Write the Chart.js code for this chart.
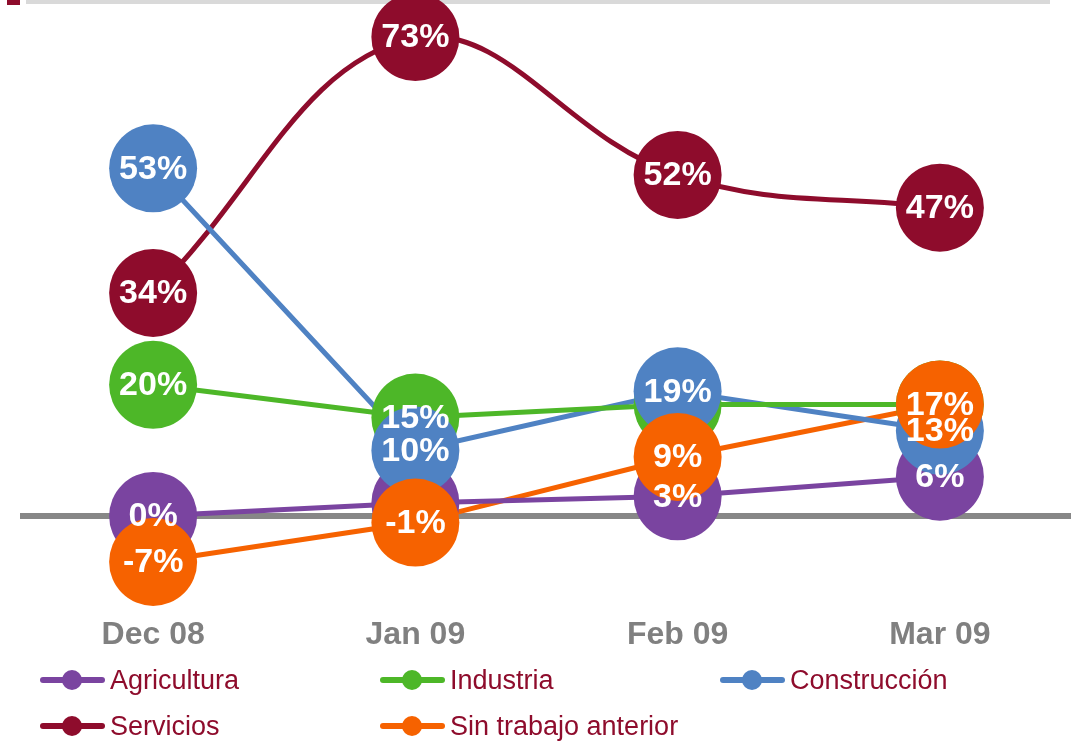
<!DOCTYPE html>
<html lang="es">
<head>
  <meta charset="UTF-8">
  <title>Parados por sector</title>
  <style>
    body {
      margin: 0;
      background: #ffffff;
      font-family: "Liberation Sans", Arial, sans-serif;
    }
    #wrap {
      position: relative;
      width: 1071px;
      height: 741px;
      overflow: hidden;
    }
    #topbar {
      position: absolute;
      left: 26px;
      top: 0;
      width: 1024px;
      height: 4px;
      background: #d9d9d9;
    }
    #redmark {
      position: absolute;
      left: 7px;
      top: 0;
      width: 13px;
      height: 5px;
      background: #8e0c2c;
    }
    canvas {
      position: absolute;
      left: 0;
      top: 0;
    }
    .item {
      position: absolute;
      display: flex;
      align-items: center;
      height: 30px;
      font-size: 27px;
      color: #8e0c2c;
      white-space: nowrap;
    }
    .mark {
      position: relative;
      width: 65px;
      height: 20px;
      margin-right: 5px;
    }
    .mark .ln {
      position: absolute;
      left: 0;
      top: 7px;
      width: 65px;
      height: 6px;
      border-radius: 3px;
    }
    .mark .dot {
      position: absolute;
      left: 22px;
      top: 0;
      width: 20px;
      height: 20px;
      border-radius: 50%;
    }
  </style>
</head>
<body>
<div id="wrap">
  <div id="topbar"></div>
  <div id="redmark"></div>
  <canvas id="chart" width="1071" height="741"></canvas>
  <div id="legend"></div>
</div>

<script src="https://cdn.jsdelivr.net/npm/chart.js"></script>
<script>
// datos
const categories = ['Dec 08', 'Jan 09', 'Feb 09', 'Mar 09'];
const seriesNames = ['Agricultura', 'Industria', 'Construcción', 'Servicios', 'Sin trabajo anterior'];
const agricultura = [0, 2, 3, 6];
const industria = [20, 15, 17, 17];
const construccion = [53, 10, 19, 13];
const servicios = [34, 73, 52, 47];
const sinTrabajo = [-7, -1, 9, 17];
// etiquetas visibles en el original
const showAgricultura = [true, false, true, true];
const showIndustria = [true, true, false, false];
const showConstruccion = [true, true, true, true];
const showServicios = [true, true, true, true];
const showSinTrabajo = [true, true, true, true];

const colors = ['#7a44a0', '#4db728', '#4f82c3', '#8e0c2c', '#f66200'];
const values = [agricultura, industria, construccion, servicios, sinTrabajo];
const shown = [showAgricultura, showIndustria, showConstruccion, showServicios, showSinTrabajo];

const datasets = [];
// líneas primero (debajo de todos los círculos)
values.forEach((v, i) => {
  datasets.push({
    label: seriesNames[i],
    data: v,
    borderColor: colors[i],
    borderWidth: 5,
    pointRadius: 0,
    tension: i === 3 ? 0.4 : 0,
    fill: false,
    clip: false,
    order: 10
  });
});
// círculos: naranja arriba, morado abajo
values.forEach((v, i) => {
  datasets.push({
    label: seriesNames[i] + ' pts',
    data: v,
    showLine: false,
    pointRadius: 44,
    pointBorderWidth: 0,
    pointBackgroundColor: colors[i],
    clip: false,
    order: 5 - i,
    isPoints: true,
    seriesIndex: i
  });
});

const zeroLine = {
  id: 'zeroLine',
  beforeDatasetsDraw(chart) {
    const c = chart.ctx;
    const y = chart.scales.y.getPixelForValue(0);
    c.save();
    c.strokeStyle = '#878787';
    c.lineWidth = 6;
    c.beginPath();
    c.moveTo(20, y);
    c.lineTo(chart.width, y);
    c.stroke();
    c.restore();
  }
};

const pointLabels = {
  id: 'pointLabels',
  afterDatasetsDraw(chart) {
    const c = chart.ctx;
    c.save();
    c.fillStyle = '#ffffff';
    c.font = 'bold 34px "Liberation Sans", Arial, sans-serif';
    c.textAlign = 'center';
    c.textBaseline = 'middle';
    chart.data.datasets.forEach((ds, di) => {
      if (!ds.isPoints) return;
      const meta = chart.getDatasetMeta(di);
      meta.data.forEach((pt, k) => {
        if (!shown[ds.seriesIndex][k]) return;
        c.fillText(ds.data[k] + '%', pt.x, pt.y + 1);
      });
    });
    c.restore();
  }
};

new Chart(document.getElementById('chart'), {
  type: 'line',
  data: { labels: categories, datasets: datasets },
  options: {
    responsive: false,
    animation: false,
    events: [],
    layout: { autoPadding: false, padding: { top: 24, left: 22, right: 0, bottom: 53 } },
    plugins: {
      legend: { display: false },
      tooltip: { enabled: false }
    },
    scales: {
      x: {
        offset: true,
        grid: { display: false, drawTicks: false },
        border: { display: false },
        ticks: {
          padding: 34,
          color: '#808080',
          font: { family: '"Liberation Sans", Arial, sans-serif', size: 32, weight: 'bold' }
        }
      },
      y: {
        display: false,
        min: -10,
        max: 75
      }
    }
  },
  plugins: [zeroLine, pointLabels]
});

// leyenda
const legend = document.getElementById('legend');
const legendPos = [[40, 665], [380, 665], [720, 665], [40, 711], [380, 711]];
seriesNames.forEach((name, i) => {
  const it = document.createElement('div');
  it.className = 'item';
  it.style.left = legendPos[i][0] + 'px';
  it.style.top = legendPos[i][1] + 'px';
  it.innerHTML = '<span class="mark"><span class="ln" style="background:' + colors[i] +
    '"></span><span class="dot" style="background:' + colors[i] + '"></span></span>' + name;
  legend.appendChild(it);
});
</script>
</body>
</html>
